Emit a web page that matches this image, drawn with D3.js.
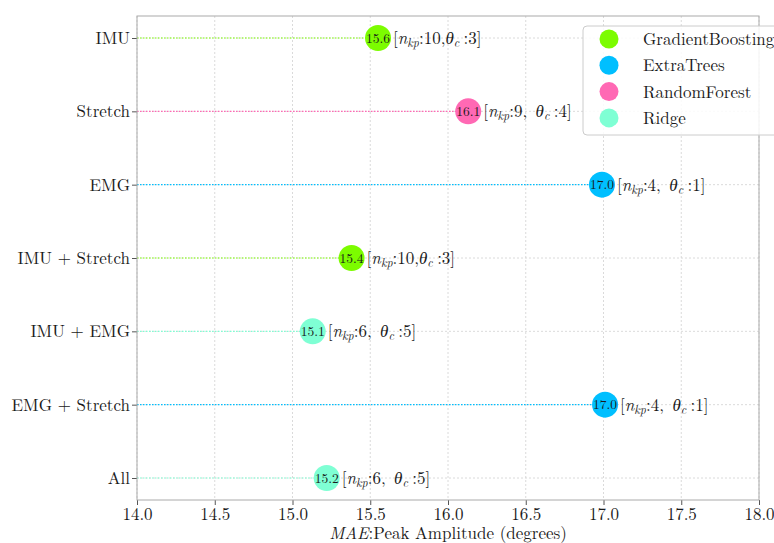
<!DOCTYPE html>
<html><head><meta charset="utf-8">
<script src="https://cdn.jsdelivr.net/npm/d3@7"></script>
<style>body{margin:0;background:#fff}svg{display:block}</style>
</head><body>
<script>
const categories = ["IMU","Stretch","EMG","IMU + Stretch","IMU + EMG","EMG + Stretch","All"];
const values = [15.55,16.13,16.99,15.38,15.13,17.01,15.22];
const models = ["GradientBoosting","RandomForest","ExtraTrees","GradientBoosting","Ridge","ExtraTrees","Ridge"];
const valueLabels = ["15.6","16.1","17.0","15.4","15.1","17.0","15.2"];
const nkp = ["10","9","4","10","6","4","6"];
const thetac = ["3","4","1","3","5","1","5"];
const compact = [true,false,false,true,false,false,false];
const legendNames = ["GradientBoosting","ExtraTrees","RandomForest","Ridge"];
const colorList = ["#7CFC00","#00BFFF","#FF69B4","#7FFFD4"];
const xTicks = [14.0,14.5,15.0,15.5,16.0,16.5,17.0,17.5,18.0];

const W=774,H=543;
const m={l:137,r:15,t:16,b:43};
const fs=17;
const FONT='"Latin Modern Roman","Liberation Serif",serif';
const svg=d3.select("body").append("svg").attr("width",W).attr("height",H).style("font-family",FONT);
const x=d3.scaleLinear().domain([14,18]).range([m.l,W-m.r]);
const y=d3.scaleLinear().domain([-0.3,6.3]).range([m.t,H-m.b]);
const color=d3.scaleOrdinal().domain(legendNames).range(colorList);

const g=svg.append("g");
// grid
g.selectAll(".gx").data(xTicks).join("line").attr("x1",d=>x(d)).attr("x2",d=>x(d))
 .attr("y1",m.t).attr("y2",H-m.b).attr("stroke","#d0d0d0").attr("stroke-width",0.8).attr("stroke-dasharray","2,2");
g.selectAll(".gy").data(categories).join("line").attr("x1",m.l).attr("x2",W-m.r)
 .attr("y1",(d,i)=>y(i)).attr("y2",(d,i)=>y(i)).attr("stroke","#d0d0d0").attr("stroke-width",0.8).attr("stroke-dasharray","2,2");

// stems
g.selectAll(".stem").data(values).join("line").attr("x1",m.l).attr("x2",d=>x(d))
 .attr("y1",(d,i)=>y(i)).attr("y2",(d,i)=>y(i)).attr("stroke",(d,i)=>color(models[i]))
 .attr("stroke-width",1.2).attr("stroke-dasharray","1.5,1.5");

// axes
const ax=svg.append("g").attr("transform",`translate(0,${H-m.b})`)
 .call(d3.axisBottom(x).tickValues(xTicks).tickFormat(d3.format(".1f")).tickSize(5).tickPadding(3));
const ay=svg.append("g").attr("transform",`translate(${m.l},0)`)
 .call(d3.axisLeft(y).tickValues(d3.range(categories.length)).tickFormat(i=>categories[i]).tickSize(5).tickPadding(2));
[ax,ay].forEach(a=>{a.attr("font-family",null).style("font-family",FONT);a.select(".domain").remove();a.selectAll("line").attr("stroke","#555");
 a.selectAll("text").style("font-family",FONT).attr("font-size",fs).attr("fill","#1a1a1a");});
svg.append("rect").attr("x",m.l).attr("y",m.t).attr("width",W-m.r-m.l).attr("height",H-m.b-m.t)
 .attr("fill","none").attr("stroke","#aaa").attr("stroke-width",1);

// points
g.selectAll(".pt").data(values).join("circle").attr("cx",d=>x(d)).attr("cy",(d,i)=>y(i)).attr("r",13)
 .attr("fill",(d,i)=>color(models[i]));
g.selectAll(".vl").data(values).join("text").attr("x",d=>x(d)).attr("y",(d,i)=>y(i)+4.5)
 .attr("text-anchor","middle").style("font-family",FONT).attr("font-size",13.5).attr("fill","#1a1a1a")
 .text((d,i)=>valueLabels[i]);

// annotations
values.forEach((v,i)=>{
  const t=g.append("text").attr("x",x(v)+15).attr("y",y(i)+6).style("font-family",FONT).attr("font-size",fs).attr("fill","#1a1a1a");
  t.append("tspan").text("[");
  t.append("tspan").attr("font-style","italic").text("n");
  t.append("tspan").attr("font-style","italic").attr("font-size",12).attr("dy",3).text("kp");
  t.append("tspan").attr("dy",-3).text(":"+nkp[i]+(compact[i]?",":",\u2002"));
  t.append("tspan").attr("font-style","italic").text("θ");
  t.append("tspan").attr("font-style","italic").attr("font-size",12).attr("dy",3).text("c");
  t.append("tspan").attr("dy",-3).text("\u2005:"+thetac[i]+"]");
});

// x label
const xl=svg.append("text").attr("x",(m.l+W-m.r)/2).attr("y",H-4).attr("text-anchor","middle")
 .style("font-family",FONT).attr("font-size",fs).attr("fill","#1a1a1a");
xl.append("tspan").attr("font-style","italic").text("MAE");
xl.append("tspan").text(":Peak Amplitude (degrees)");

// legend
const lg=svg.append("g");
lg.append("rect").attr("x",583).attr("y",26).attr("width",200).attr("height",109).attr("rx",4)
 .attr("fill","#fff").attr("fill-opacity",0.85).attr("stroke","#ccc");
legendNames.forEach((n,i)=>{
  lg.append("circle").attr("cx",609).attr("cy",39+i*26.3).attr("r",9.5).attr("fill",color(n));
  lg.append("text").attr("x",643).attr("y",45+i*26.3).style("font-family",FONT).attr("font-size",fs).attr("fill","#1a1a1a").text(n);
});
</script>
</body></html>
